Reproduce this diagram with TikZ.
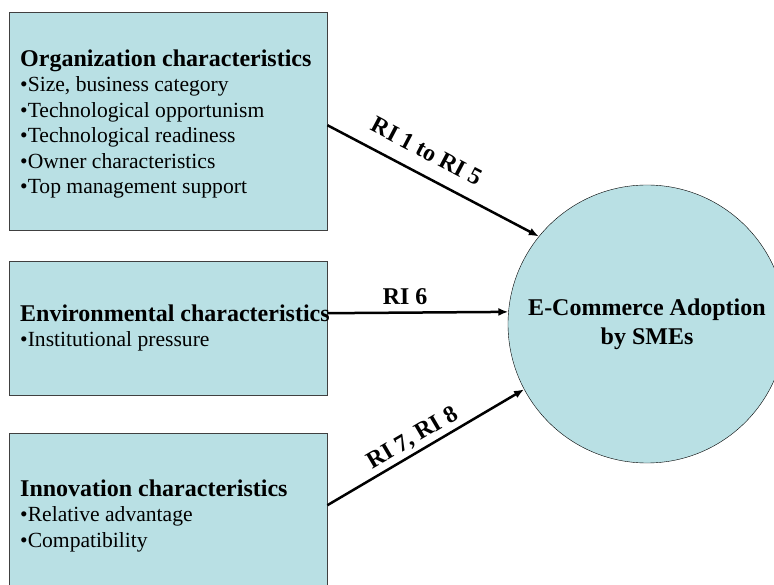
\documentclass[tikz,border=0pt]{standalone}
\usepackage{fontspec}
\setmainfont{Liberation Serif}
\usetikzlibrary{arrows.meta}
\definecolor{factorfill}{RGB}{185,224,228}

\tikzset{
  factorbox/.style={draw=black!75, fill=factorfill, anchor=north west, inner sep=0pt, minimum width=318pt},
  factortext/.style={anchor=west, align=left, inner sep=0pt, font=\fontsize{21.6}{25.4}\selectfont},
  link/.style={line width=2.5pt, -{Latex[length=10pt,width=8pt]}},
  linklabel/.style={font=\fontsize{24}{26}\selectfont\bfseries, sloped, above, inner sep=3pt}
}
\def\titlefont{\fontsize{24}{25.4}\selectfont\bfseries}

\begin{document}
\begin{tikzpicture}[x=1pt,y=-1pt]
  \useasboundingbox (0,0) rectangle (774,585);

  % the three groups of characteristics
  \node[factorbox, minimum height=218pt] (org) at (9,12) {};
  \node[factorbox, minimum height=134pt] (env) at (9,261) {};
  \node[factorbox, minimum height=166pt] (inn) at (9,433) {};

  \node[factortext] (orgtext) at (20,124) {{\titlefont Organization characteristics}\\
    •Size, business category\\
    •Technological opportunism\\
    •Technological readiness\\
    •Owner characteristics\\
    •Top management support};
  \node[factortext] (envtext) at (20,328) {{\titlefont Environmental characteristics}\\
    •Institutional pressure};
  \node[factortext] (inntext) at (20,516) {{\titlefont Innovation characteristics}\\
    •Relative advantage\\
    •Compatibility};

  % adoption
  \node[circle, draw, fill=factorfill, minimum size=278pt, align=center,
        font=\fontsize{24}{29}\selectfont\bfseries] (ecom) at (647,324)
        {E-Commerce Adoption\\by SMEs};

  \draw[link] ([yshift=-4pt]org.east) -- node[linklabel, pos=0.42, above=11pt] {RI 1 to RI 5} (ecom.141);
  \draw[link] ([yshift=15pt]env.east) -- node[linklabel, pos=0.43, above=4pt] {RI 6} (ecom.175);
  \draw[link] ([yshift=11pt]inn.east) -- node[linklabel, pos=0.47] {RI 7, RI 8} (ecom.208);
\end{tikzpicture}
\end{document}
